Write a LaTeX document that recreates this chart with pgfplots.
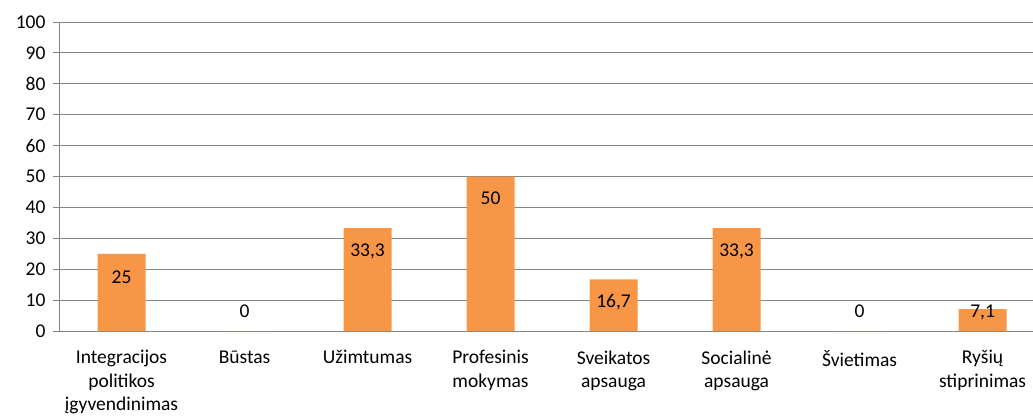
\documentclass[border=0pt]{standalone}
\usepackage{pgfplots}
\pgfplotsset{compat=1.18}
\usepackage{fontspec}
\setmainfont{Carlito}
\definecolor{barorange}{HTML}{F79646}
\definecolor{gridgray}{HTML}{868686}

\begin{document}
\begin{tikzpicture}[x=1pt,y=1pt]
\begin{axis}[
    scale only axis, width=973pt, height=309pt,
    at={(0,0)}, anchor=south west,
    xmin=-0.5, xmax=7.41, ymin=0, ymax=100,
    axis x line=bottom, axis y line=left,
    axis line style={-, gridgray, line width=1pt},
    ytick={0,10,...,100},
    ymajorgrids, grid style={gridgray, line width=1pt},
    xtick={0,...,7},
    xticklabels={Integracijos\\politikos\\įgyvendinimas, Būstas, Užimtumas,
      Profesinis\\mokymas, Sveikatos\\apsauga, Socialinė\\apsauga, Švietimas,
      Ryšių\\stiprinimas},
    x tick style={draw=none},
    extra x ticks={-0.5,0.5,...,6.5},
    extra x tick labels={},
    extra x tick style={grid=none, major tick length=7pt, tick style={gridgray, line width=1pt}},
    y tick style={gridgray, line width=1pt},
    tick align=outside, major tick length=7pt,
    /pgf/number format/assume math mode=true,
    tick label style={font=\fontsize{19.5}{23.5}\selectfont, black},
    xticklabel style={align=center, anchor=north, yshift=-9pt},
    yticklabel style={anchor=east, xshift=-4pt},
    clip=false,
  ]
  \addplot[ybar, bar width=48pt, fill=barorange, draw=none]
    coordinates {(0,25) (1,0) (2,33.3) (3,50) (4,16.7) (5,33.3) (6,0) (7,7.1)};
  \addplot[only marks, mark=none, nodes near coords, point meta=explicit symbolic,
    every node near coord/.append style={anchor=center, font=\fontsize{19.5}{23.5}\selectfont, black}]
    table[meta=lab] {
      x y lab
      0 17.5 25
      1 6.5 0
      2 25.6 {33,3}
      3 43 50
      4 9.4 {16,7}
      5 25.6 {33,3}
      6 6.5 0
      7 6.1 {7,1}
    };
  \coordinate (sw) at (rel axis cs:0,0);
  \coordinate (ne) at (rel axis cs:1,1);
\end{axis}
\pgfresetboundingbox
\path ([shift={(-60pt,-85pt)}]sw) rectangle ([shift={(0pt,22pt)}]ne);
\end{tikzpicture}
\end{document}
